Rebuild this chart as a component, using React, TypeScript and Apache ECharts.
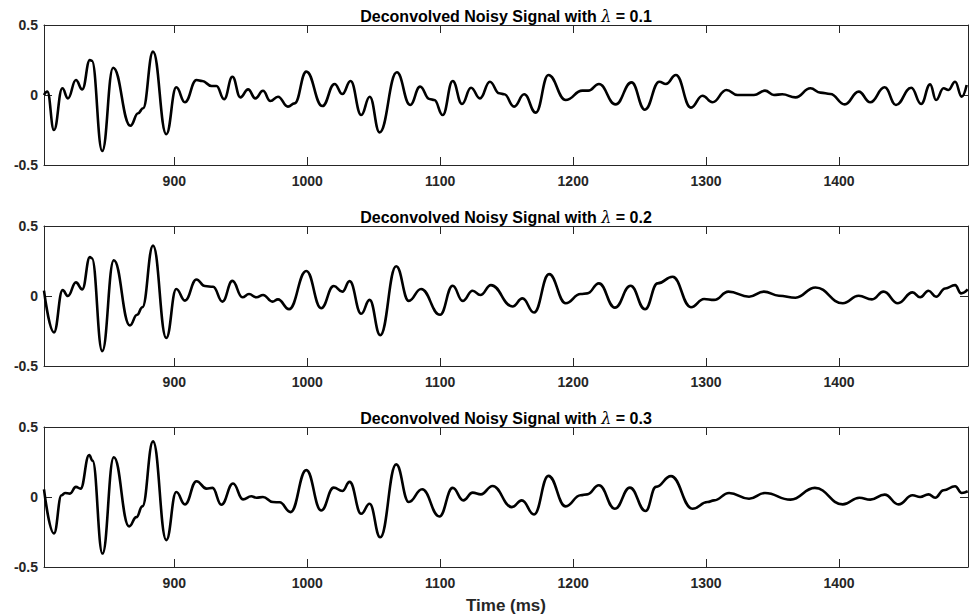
import React, { useEffect, useRef } from "react";
import * as echarts from "echarts";

const xTicks = [900, 1000, 1100, 1200, 1300, 1400];
const lambdas = ["0.1", "0.2", "0.3"];

const sig1: number[][] = [[802,0.0],[804.5,0.025],[809.5,-0.25],[815.8,0.048],[820,-0.024],[826,0.107],[830.8,0.04],[836.5,0.25],[838,0.245],[845.8,-0.40],[854,0.195],[867,-0.22],[872.8,-0.13],[876.5,-0.095],[884,0.31],[894,-0.28],[901.5,0.055],[908,-0.052],[916.7,0.107],[921,0.1],[928,0.064],[931.7,0.064],[937.5,-0.03],[943.7,0.13],[949.7,-0.017],[955.5,0.04],[961,-0.024],[966.7,0.03],[972.3,-0.043],[978,-0.012],[985.5,-0.083],[990.5,-0.06],[999.3,0.167],[1011.4,-0.079],[1020.6,0.079],[1026.4,0.007],[1032.6,0.1],[1040.6,-0.143],[1047,-0.012],[1054.4,-0.267],[1067.4,0.162],[1077.4,-0.071],[1084.9,0.06],[1091.9,-0.029],[1095.6,-0.036],[1101.9,-0.143],[1109.4,0.1],[1116.4,-0.064],[1123.2,0.052],[1129.9,-0.024],[1137.4,0.095],[1144.4,0.012],[1148.2,0.005],[1155.6,-0.083],[1163.2,0.005],[1171.9,-0.126],[1181.4,0.143],[1194.4,-0.036],[1206.9,0.031],[1211.4,0.031],[1219.4,0.079],[1231.9,-0.067],[1243.9,0.09],[1254,-0.105],[1264.8,0.095],[1269.8,0.079],[1277.3,0.143],[1288.6,-0.09],[1297.3,-0.005],[1304.8,-0.052],[1315.3,0.036],[1323.6,0],[1336,0],[1344.3,0.031],[1351,0],[1357.3,0.005],[1367.3,-0.017],[1378.5,0.048],[1386,0.017],[1393.5,0.007],[1404.3,-0.067],[1414.8,0.024],[1423.5,-0.052],[1434.3,0.055],[1442.8,-0.071],[1454.3,0.052],[1461.8,-0.064],[1468.5,0.076],[1473,-0.036],[1478.6,0.048],[1482.3,0.036],[1487.3,0.095],[1492.3,-0.012],[1496,0.071]];

const sig2: number[][] = [[802,0.038],[809.5,-0.26],[816,0.042],[820,0.0],[826,0.097],[830.8,0.047],[836.5,0.278],[838,0.27],[845.8,-0.394],[854.5,0.255],[866.6,-0.21],[872,-0.134],[876,-0.08],[884,0.36],[894,-0.3],[901.5,0.05],[908,-0.033],[916.7,0.118],[923,0.071],[929.2,0.066],[936.2,-0.04],[943.7,0.108],[951.2,-0.009],[956.2,0.014],[961.8,-0.009],[966.8,0.007],[973.8,-0.04],[978,-0.024],[986.3,-0.094],[999.3,0.179],[1010.5,-0.087],[1019.9,0.071],[1026.4,0.031],[1031.9,0.106],[1040.6,-0.127],[1046.9,-0.028],[1054.9,-0.28],[1066.9,0.212],[1076.4,-0.035],[1085.6,0.05],[1099.9,-0.134],[1109.4,0.073],[1116.9,-0.035],[1124.4,0.038],[1130.2,0.007],[1138.2,0.078],[1154.4,-0.075],[1161.9,-0.017],[1170.6,-0.118],[1181.9,0.156],[1194.4,-0.052],[1205.6,0.014],[1210.6,0.019],[1219.4,0.09],[1231.4,-0.083],[1243.2,0.073],[1254.1,-0.095],[1263.5,0.09],[1274.8,0.137],[1288.6,-0.08],[1298.5,-0.021],[1306,-0.028],[1316.8,0.031],[1332.3,-0.005],[1343.5,0.031],[1354.8,0.002],[1367.3,-0.012],[1382.3,0.061],[1402.8,-0.052],[1414.8,0.002],[1424.8,-0.024],[1433.5,0.031],[1444.3,-0.052],[1455.3,0.026],[1461,-0.009],[1467.3,0.038],[1473,-0.005],[1479.8,0.054],[1487.3,0.078],[1491.8,0.019],[1496.8,0.047]];

const sig3: number[][] = [[802,0.055],[809.5,-0.26],[815.2,0.012],[817.8,0.029],[821.5,0.024],[826,0.072],[829.5,0.06],[836,0.3],[838.5,0.26],[846,-0.404],[854.5,0.284],[866,-0.21],[871.5,-0.144],[876,-0.067],[884,0.397],[894,-0.308],[901.5,0.036],[908,-0.053],[916.7,0.113],[924.2,0.06],[928.7,0.065],[935.4,-0.055],[944.2,0.096],[951.7,-0.017],[957.9,0.005],[961.7,-0.005],[966.7,0],[974.2,-0.036],[979.2,-0.038],[987.5,-0.108],[999.3,0.192],[1010.5,-0.096],[1019.9,0.067],[1026.4,0.043],[1031.9,0.108],[1040.6,-0.12],[1046.9,-0.048],[1054.9,-0.288],[1066.9,0.233],[1076.4,-0.036],[1086.4,0.055],[1099.4,-0.139],[1109.4,0.065],[1117.4,-0.024],[1124.4,0.031],[1130.6,0.019],[1139.4,0.079],[1153.9,-0.072],[1161.4,-0.024],[1170.6,-0.125],[1181.4,0.151],[1194.4,-0.067],[1205.6,0.012],[1210.6,0.019],[1219.4,0.084],[1231.4,-0.084],[1242.7,0.067],[1254.5,-0.1],[1262.3,0.072],[1273.6,0.149],[1289.8,-0.084],[1301,-0.036],[1306,-0.024],[1317.3,0.029],[1332.3,-0.012],[1344.3,0.029],[1363.5,-0.019],[1381.8,0.065],[1402.8,-0.053],[1415.3,-0.005],[1423.5,-0.019],[1434.3,0.017],[1444.8,-0.053],[1455.3,0.012],[1461,0],[1467.3,0.019],[1472.3,-0.005],[1478.6,0.048],[1487.3,0.077],[1492.3,0.029],[1496.8,0.041]];

const signals = [sig1, sig2, sig3];

export default function App() {
  const ref = useRef<HTMLDivElement>(null);
  useEffect(() => {
    if (!ref.current) return;
    const chart = echarts.init(ref.current, undefined, { renderer: "svg" });
    const FONT = "'Liberation Sans', Arial, Helvetica, sans-serif";
    const AX = "#262626";
    const tops = [25, 226, 427];
    const H = 140;
    const grids = tops.map((t) => ({ left: 44, top: t, width: 924, height: H }));
    const xAxes: any[] = [];
    const yAxes: any[] = [];
    const series: any[] = [];
    const graphics: any[] = [];
    tops.forEach((t, i) => {
      const common = {
        type: "value",
        gridIndex: i,
        min: 802,
        max: 1497,
        splitLine: { show: false },
        axisLine: { show: true, onZero: false, lineStyle: { color: AX, width: 1 } },
        axisTick: { show: true, inside: true, length: 8, lineStyle: { color: AX }, customValues: xTicks },
      };
      xAxes.push({
        ...common,
        position: "bottom",
        axisLabel: {
          show: true,
          customValues: xTicks,
          formatter: (v: number) => String(v),
          margin: 9,
          color: AX,
          fontFamily: FONT,
          fontWeight: "bold",
          fontSize: 14,
        },
        ...(i === 2
          ? {
              name: "Time (ms)",
              nameLocation: "middle",
              nameGap: 30,
              nameTextStyle: { color: AX, fontFamily: FONT, fontWeight: "bold", fontSize: 17 },
            }
          : {}),
      });
      xAxes.push({ ...common, position: "top", axisLabel: { show: false } });
      const ycommon = {
        type: "value",
        gridIndex: i,
        min: -0.5,
        max: 0.5,
        interval: 0.5,
        splitLine: { show: false },
        axisLine: { show: true, onZero: false, lineStyle: { color: AX, width: 1 } },
        axisTick: { show: true, inside: true, length: 8, lineStyle: { color: AX } },
      };
      yAxes.push({
        ...ycommon,
        position: "left",
        axisLabel: { show: true, margin: 6, color: AX, fontFamily: FONT, fontWeight: "bold", fontSize: 14 },
      });
      yAxes.push({ ...ycommon, position: "right", axisLabel: { show: false } });
      series.push({
        type: "line",
        xAxisIndex: i * 2,
        yAxisIndex: i * 2,
        data: signals[i],
        showSymbol: false,
        smooth: 0.45,
        smoothMonotone: "x",
        lineStyle: { color: "#000", width: 2.6 },
        z: 3,
      });
      graphics.push({
        type: "text",
        x: 506,
        y: t - 9,
        style: {
          text: "{b|Deconvolved Noisy Signal with }{l|λ}{b| = " + lambdas[i] + "}",
          align: "center",
          verticalAlign: "middle",
          rich: {
            b: { fontFamily: FONT, fontWeight: "bold", fontSize: 16, fill: "#000" },
            l: { fontFamily: "'DejaVu Serif', serif", fontStyle: "italic", fontWeight: "normal", fontSize: 16, fill: "#000" },
          },
        },
      });
    });
    chart.setOption({
      animation: false,
      backgroundColor: "#fff",
      grid: grids,
      xAxis: xAxes,
      yAxis: yAxes,
      series,
      graphic: graphics,
    });
    return () => chart.dispose();
  }, []);
  return (
    <div
      ref={ref}
      style={{ position: "fixed", left: 0, top: 0, width: 971, height: 615, background: "#fff" }}
    />
  );
}
